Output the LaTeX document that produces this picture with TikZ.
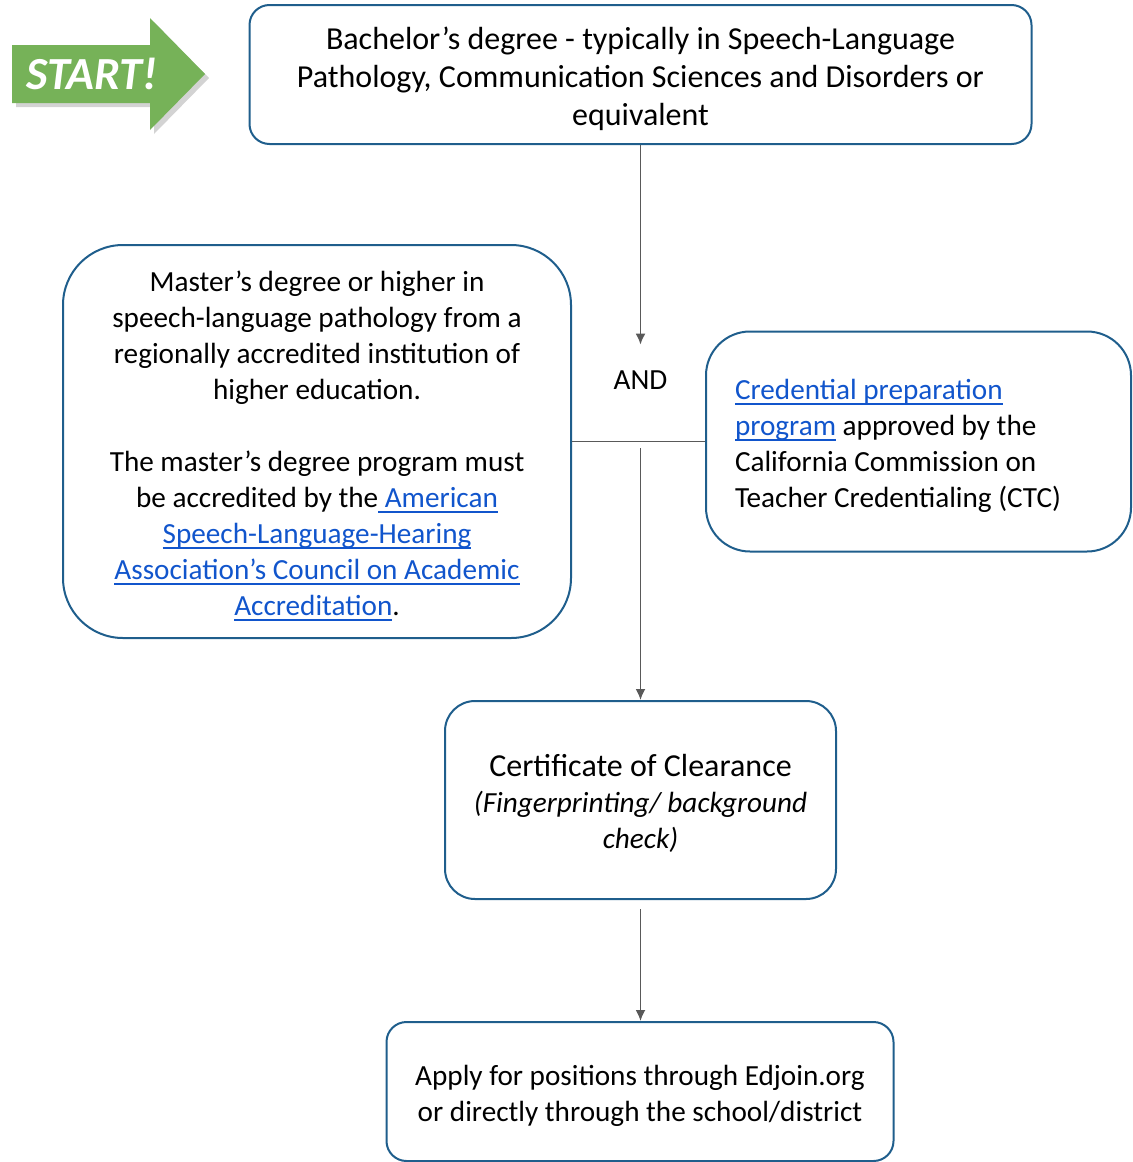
\documentclass[tikz,border=0pt]{standalone}
\usepackage{fontspec}
\setmainfont{Carlito}
\usepackage{xcolor}
\usepackage{tikz}
\usetikzlibrary{arrows.meta}
\usetikzlibrary{shadows}
\definecolor{boxblue}{RGB}{31,94,140}
\definecolor{linkblue}{RGB}{17,85,204}
\definecolor{linegray}{RGB}{89,89,89}
\definecolor{startgreen}{RGB}{118,178,88}
\newcommand{\lnk}[1]{\textcolor{linkblue}{\setbox0\hbox{#1}\rlap{\rule[-2.8pt]{\wd0}{0.9pt}}\box0}}

\begin{document}
\begin{tikzpicture}[x=0.5pt,y=-0.5pt,
	stepbox/.style={draw=boxblue,line width=1pt,align=flush center,inner sep=0pt,font=\fontsize{14.6pt}{18pt}\selectfont,
		execute at begin node={\rule{0pt}{1em}}},
	link/.style={draw=linegray,line width=0.9pt},
	>={Latex[length=5.5pt,width=5pt]}]
	\useasboundingbox (0,0) rectangle (1133,1162);
	% start arrow
	\fill[startgreen,drop shadow={opacity=0.35,shadow xshift=2pt,shadow yshift=-2pt}] (12,45) -- (150,45) -- (150,18) -- (205,74) -- (150,130) -- (150,103) -- (12,103) -- cycle;
	\node[text=white,font=\fontsize{23pt}{23pt}\selectfont\bfseries\itshape] (start) at (92,74) {START!};
	% boxes
	\node[stepbox,minimum width=391pt,minimum height=69.5pt,text width=380pt,rounded corners=10pt,font=\fontsize{16pt}{19pt}\selectfont] (bachelor) at (640.5,74.5) {Bachelor’s degree - typically in Speech-Language\\Pathology, Communication Sciences and Disorders or\\equivalent};
	\node[stepbox,minimum width=254pt,minimum height=196.5pt,text width=240pt,rounded corners=30pt] (master) at (317,441.5) {Master’s degree or higher in\\speech-language pathology from a\\regionally accredited institution of\\higher education.\\[18pt]The master’s degree program must\\be accredited by the\lnk{ American}\\\lnk{Speech-Language-Hearing}\\\lnk{Association’s Council on Academic}\\\lnk{Accreditation}.};
	\node[stepbox,minimum width=212.5pt,minimum height=110pt,rounded corners=22pt,align=flush left,text width=183.5pt] (cred) at (918.5,441.5) {\lnk{Credential preparation}\\\lnk{program} approved by the\\California Commission on\\Teacher Credentialing (CTC)};
	\node[inner sep=0pt,minimum height=35pt,font=\fontsize{14.6pt}{18pt}\selectfont] (and) at (640.5,380) {AND};
	\node[stepbox,minimum width=195.5pt,minimum height=99pt,text width=185pt,rounded corners=15pt] (cert) at (640.5,800) {{\fontsize{16pt}{18.5pt}\selectfont Certificate of Clearance}\\\textit{(Fingerprinting/ background}\\\textit{check)}};
	\node[stepbox,minimum width=253.5pt,minimum height=69.5pt,text width=245pt,rounded corners=10pt] (apply) at (640,1091.5) {Apply for positions through Edjoin.org\\or directly through the school/district};
	% connectors
	\coordinate (split) at (640.5,448);
	\draw[link,->] (bachelor.south) -- (and.north);
	\draw[link] (master.east) -- (cred.west);
	\draw[link,->] (split) -- (cert.north);
	\draw[link,->,shorten <=4.5pt] (cert.south) -- (cert.south |- apply.north);
\end{tikzpicture}
\end{document}
